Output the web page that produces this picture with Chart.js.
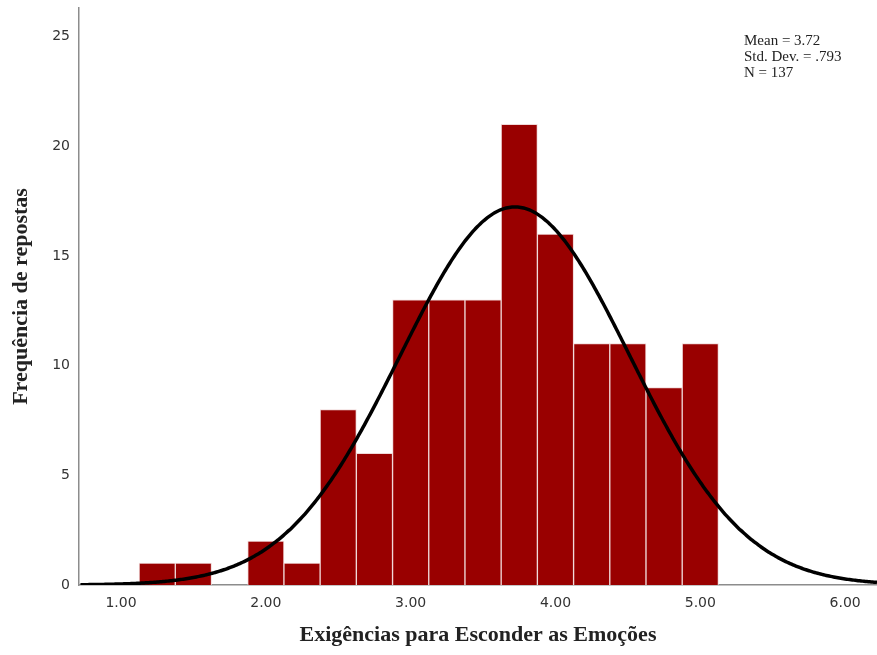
<!DOCTYPE html>
<html>
<head>
<meta charset="utf-8">
<script src="https://cdn.jsdelivr.net/npm/chart.js@4/dist/chart.umd.min.js"></script>
<style>
  html, body { margin: 0; padding: 0; background: #fff; }
  #wrap { width: 877px; height: 655px; }
</style>
</head>
<body>
<div id="wrap"><canvas id="histChart" width="877" height="655"></canvas></div>
<script>
// histogram bins (width .25) and counts
const binCenters = [1.25, 1.50, 1.75, 2.00, 2.25, 2.50, 2.75, 3.00, 3.25, 3.50, 3.75, 4.00, 4.25, 4.50, 4.75, 5.00];
const binCounts  = [1, 1, 0, 2, 1, 8, 6, 13, 13, 13, 21, 16, 11, 11, 9, 11];
const binWidth = 0.25;

// summary stats shown in the corner
const statMean = 3.72;
const statSD = 0.793;
const statN = 137;
const statLines = ["Mean = 3.72", "Std. Dev. = .793", "N = 137"];

const xTickValues = [1, 2, 3, 4, 5, 6];
const yTickValues = [0, 5, 10, 15, 20, 25];

// normal curve scaled to the histogram
const curveXs = [];
for (let x = 0.72; x <= 6.24; x += 0.02) curveXs.push(+x.toFixed(2));
const curvePts = curveXs.map(x => ({
  x: x,
  y: statN * binWidth / (statSD * Math.sqrt(2 * Math.PI)) *
     Math.exp(-0.5 * Math.pow((x - statMean) / statSD, 2))
}));

const statsBox = {
  id: "statsBox",
  afterDraw(chart) {
    const c = chart.ctx;
    c.save();
    c.font = "15px 'Liberation Serif'";
    c.fillStyle = "#222";
    c.textBaseline = "middle";
    statLines.forEach((t, i) => c.fillText(t, 744, 41 + i * 16));
    c.restore();
  }
};

new Chart(document.getElementById("histChart"), {
  type: "bar",
  data: {
    datasets: [
      {
        type: "line",
        data: curvePts,
        borderColor: "#000",
        borderWidth: 3.5,
        pointRadius: 0,
        tension: 0.3,
        fill: false,
        order: 0
      },
      {
        type: "bar",
        data: binCenters.map((x, i) => ({ x: x, y: binCounts[i] })),
        backgroundColor: "#990000",
        borderColor: "#f0d8d8",
        borderWidth: 1,
        barPercentage: 1,
        categoryPercentage: 1,
        grouped: false,
        order: 1
      }
    ]
  },
  options: {
    responsive: false,
    animation: false,
    layout: { padding: { top: 8, right: 0, left: 0, bottom: 0 } },
    plugins: { legend: { display: false }, tooltip: { enabled: false } },
    scales: {
      x: {
        type: "linear",
        min: 0.71,
        max: 6.22,
        offset: false,
        grid: { display: false, drawTicks: false },
        border: { display: true, color: "#8c8c8c", width: 1.5 },
        afterBuildTicks: s => { s.ticks = xTickValues.map(v => ({ value: v })); },
        afterFit: s => { s.height = 70; },
        ticks: {
          padding: 10,
          color: "#333",
          font: { family: "DejaVu Sans", size: 14 },
          callback: v => v.toFixed(2)
        },
        title: {
          display: true,
          text: "Exigências para Esconder as Emoções",
          color: "#222",
          padding: { top: 12, bottom: 6 },
          font: { family: "Liberation Serif", size: 22, weight: "bold" }
        }
      },
      y: {
        min: 0,
        max: 26.3,
        grid: { display: false, drawTicks: false },
        border: { display: true, color: "#8c8c8c", width: 1.5 },
        afterBuildTicks: s => { s.ticks = yTickValues.map(v => ({ value: v })); },
        // fixed axis width, and no extra room above the top tick label
        afterFit: s => { s.width = 79; s.paddingTop = 0; },
        ticks: {
          padding: 9,
          color: "#333",
          font: { family: "DejaVu Sans", size: 14 }
        },
        title: {
          display: true,
          text: "Frequência de repostas",
          color: "#222",
          padding: { top: 8, bottom: 4 },
          font: { family: "Liberation Serif", size: 22, weight: "bold" }
        }
      }
    }
  },
  plugins: [statsBox]
});
</script>
</body>
</html>
